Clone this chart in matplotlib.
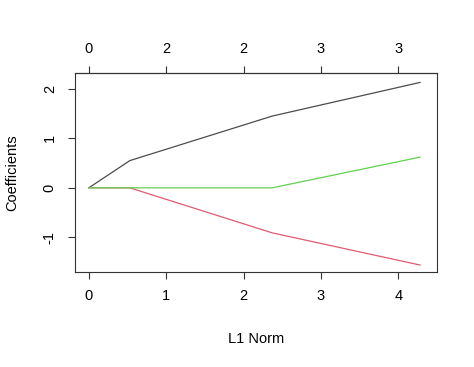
import numpy as np
import matplotlib.pyplot as plt

## data
norm = [0.0, 0.53, 2.37, 4.28]
coef_black = [0.0, 0.55, 1.45, 2.13]
coef_red = [0.0, 0.0, -0.91, -1.56]
coef_green = [0.0, 0.0, 0.0, 0.62]
top_ticks = [0, 1, 2, 3, 4]
top_labels = ['0', '2', '2', '3', '3']

plt.rcParams['font.family'] = 'Liberation Sans'
plt.rcParams['axes.unicode_minus'] = False

fig = plt.figure(figsize=(4.74, 3.67), dpi=100)
ax = fig.add_axes([0.158, 0.259, 0.764, 0.542])

ax.plot(norm, coef_black, color='#000000', lw=0.9, alpha=0.7)
ax.plot(norm, coef_red, color='#E05A70', lw=0.9)
ax.plot(norm, coef_green, color='#61D04F', lw=0.9)

ax.set_xlim(-0.18, 4.5)
ax.set_ylim(-1.70, 2.32)
ax.set_xticks([0, 1, 2, 3, 4])
ax.set_yticks([-1, 0, 1, 2])
ax.tick_params(direction='out', length=5, width=0.8, labelsize=10.5, color='#333333')
ax.tick_params(axis='x', pad=7)
ax.tick_params(axis='y', pad=8)
for lab in ax.get_yticklabels():
    lab.set_rotation(90)
    lab.set_va('center')
for s in ax.spines.values():
    s.set_color('#333333')
    s.set_linewidth(0.8)

top = ax.secondary_xaxis('top')
top.set_xticks(top_ticks)
top.set_xticklabels(top_labels)
top.tick_params(direction='out', length=5, width=0.8, labelsize=10.5, pad=7, color='#333333')

ax.set_xlabel('L1 Norm', fontsize=10.5, labelpad=21)
ax.set_ylabel('Coefficients', fontsize=10.5, labelpad=17)

fig.savefig('out.png', dpi=100)
